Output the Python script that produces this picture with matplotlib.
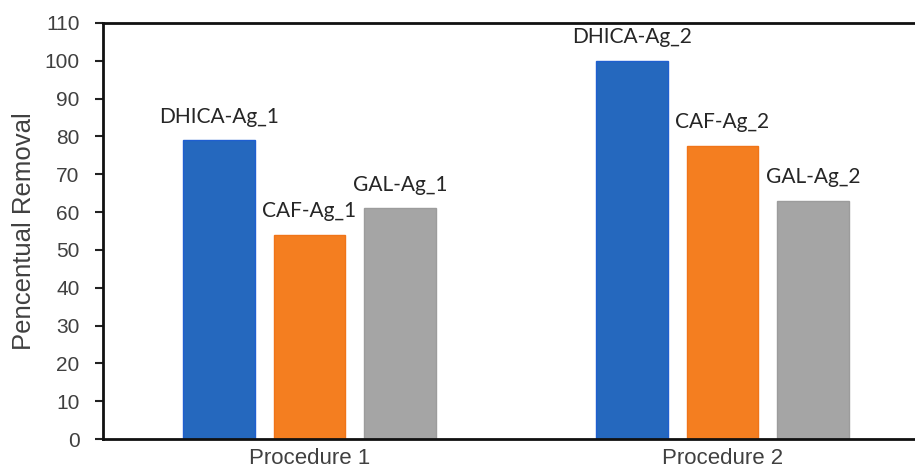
import matplotlib.pyplot as plt
import numpy as np

procedures = ["Procedure 1", "Procedure 2"]
samples = ["DHICA-Ag", "CAF-Ag", "GAL-Ag"]
removal = {
    "DHICA-Ag": [79, 100],
    "CAF-Ag": [54, 77.5],
    "GAL-Ag": [61, 63],
}
colors = {"DHICA-Ag": "#2568BE", "CAF-Ag": "#F47E20", "GAL-Ag": "#A5A5A5"}
edges = {"DHICA-Ag": "#1F5FD0", "CAF-Ag": "#F07418", "GAL-Ag": "#9C9C9C"}
yticks = list(range(0, 111, 10))

fig = plt.figure(figsize=(9.15, 4.74), dpi=100)
ax = fig.add_axes([0.1126, 0.0738, 0.9027, 0.878])

x = np.arange(len(procedures))
step = 0.22
width = 0.174
for i, s in enumerate(samples):
    pos = x + (i - 1) * step
    vals = removal[s]
    ax.bar(pos, vals, width=width, color=colors[s], edgecolor=edges[s], linewidth=1.0)
    for p, v, k in zip(pos, vals, range(len(vals))):
        ax.annotate(f"{s}_{k + 1}", (p, v), xytext=(0, 12.5), textcoords="offset points",
                    ha="center", va="baseline", fontsize=15, family="Lato", color="#262626")

ax.set_xlim(-0.5, 1.5)
ax.set_ylim(0, 110)
ax.set_yticks(yticks)
ax.set_xticks(x)
ax.set_xticklabels(procedures, fontsize=16, family="Liberation Sans", color="#404040")
ax.tick_params(axis="x", length=0, pad=6.5)
ax.tick_params(axis="y", direction="out", length=6, width=1.5, color="#222222",
               labelsize=15, labelcolor="#404040", pad=11)
for lbl in ax.get_yticklabels():
    lbl.set_family("Liberation Sans")

ax.set_ylabel("Pencentual Removal", fontsize=18.5, family="Liberation Sans", color="#404040", labelpad=6)

for side in ["left", "top", "bottom"]:
    ax.spines[side].set_linewidth(2)
    ax.spines[side].set_color("#111111")
ax.spines["right"].set_visible(False)

fig.savefig("out.png", dpi=100)
